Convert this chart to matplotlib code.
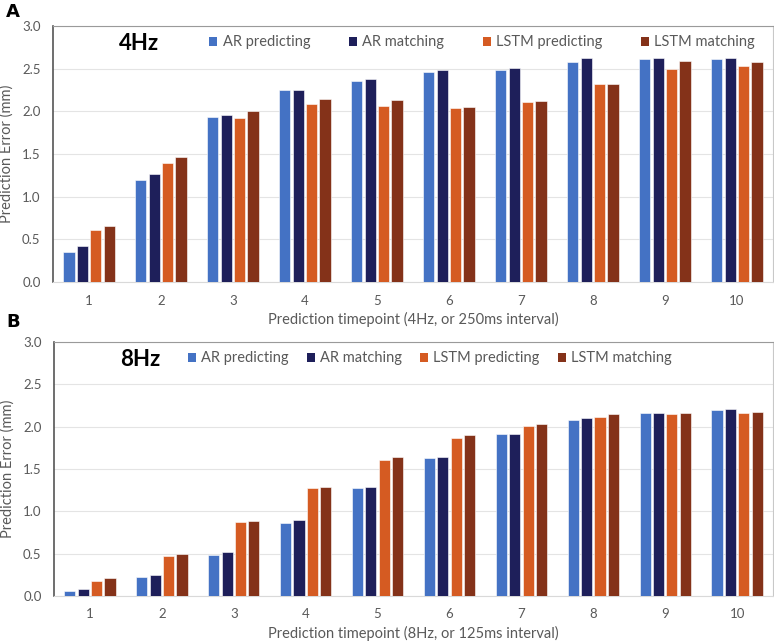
import numpy as np
import matplotlib
matplotlib.use("Agg")
import matplotlib.pyplot as plt
from matplotlib.patches import Patch

plt.rcParams['font.family'] = ['Lato', 'DejaVu Sans']

# ─── data ─────────────────────────────────────────────────────
timepoints = [1, 2, 3, 4, 5, 6, 7, 8, 9, 10]
series_names = ['AR predicting', 'AR matching', 'LSTM predicting', 'LSTM matching']
colors = ['#4472C4', '#1E1F5A', '#D55B22', '#843219']

ar_pred_4hz    = [0.35, 1.19, 1.93, 2.25, 2.36, 2.46, 2.48, 2.58, 2.61, 2.61]
ar_match_4hz   = [0.42, 1.26, 1.96, 2.25, 2.38, 2.48, 2.51, 2.62, 2.62, 2.63]
lstm_pred_4hz  = [0.61, 1.40, 1.92, 2.09, 2.06, 2.04, 2.11, 2.32, 2.50, 2.53]
lstm_match_4hz = [0.66, 1.46, 2.00, 2.15, 2.13, 2.05, 2.12, 2.32, 2.59, 2.58]

ar_pred_8hz    = [0.06, 0.22, 0.48, 0.86, 1.27, 1.63, 1.91, 2.08, 2.16, 2.20]
ar_match_8hz   = [0.08, 0.25, 0.52, 0.90, 1.29, 1.64, 1.91, 2.10, 2.16, 2.21]
lstm_pred_8hz  = [0.18, 0.47, 0.87, 1.27, 1.61, 1.87, 2.01, 2.11, 2.15, 2.16]
lstm_match_8hz = [0.21, 0.50, 0.89, 1.29, 1.64, 1.90, 2.03, 2.15, 2.16, 2.17]

panels = [
    dict(label='A', label_y=0.981, title='4Hz',
         xlabel='Prediction timepoint (4Hz, or 250ms interval)',
         data=[ar_pred_4hz, ar_match_4hz, lstm_pred_4hz, lstm_match_4hz],
         rect=[0.0685, 0.5607, 0.930, 0.3988], leg_x=0.199, col_sp=2.65),
    dict(label='B', label_y=0.498, title='8Hz',
         xlabel='Prediction timepoint (8Hz, or 125ms interval)',
         data=[ar_pred_8hz, ar_match_8hz, lstm_pred_8hz, lstm_match_8hz],
         rect=[0.0698, 0.0717, 0.929, 0.3956], leg_x=0.168, col_sp=1.25),
]

grey = '#595959'
fig = plt.figure(figsize=(7.74, 6.42), dpi=100)

x = np.array(timepoints)
step, width = 0.186, 0.155
offsets = np.array([-1.5, -0.5, 0.5, 1.5]) * step

for p in panels:
    ax = fig.add_axes(p['rect'])
    for vals, off, c in zip(p['data'], offsets, colors):
        ax.bar(x + off, vals, width=width, color=c, edgecolor='white',
               linewidth=0.4, zorder=3)
    ax.set_xlim(0.5, 10.5)
    ax.set_ylim(0, 3.0)
    ax.set_yticks(np.arange(0, 3.01, 0.5))
    ax.set_yticklabels([f'{v:.1f}' for v in np.arange(0, 3.01, 0.5)])
    ax.set_xticks(timepoints)
    ax.tick_params(axis='both', length=0, colors=grey, labelsize=9.5)
    ax.tick_params(axis='x', pad=9)
    ax.tick_params(axis='y', pad=9)
    ax.yaxis.grid(True, color='#E4E4E4', linewidth=0.8, zorder=0)
    ax.spines['left'].set_color('#555555')
    ax.spines['left'].set_linewidth(1.2)
    ax.spines['bottom'].set_color('#D9D9D9')
    ax.spines['top'].set_color('#9A9A9A')
    ax.spines['right'].set_color('#C8C8C8')
    ax.set_ylabel('Prediction Error (mm)', color=grey, fontsize=10.5, labelpad=6)
    ax.set_xlabel(p['xlabel'], color=grey, fontsize=10.5, labelpad=4)
    ax.text(0.092, 0.93, p['title'], transform=ax.transAxes, fontsize=16,
            fontweight='bold', color='black', va='center', ha='left')
    handles = [Patch(facecolor=c) for c in colors]
    leg = ax.legend(handles, series_names, ncol=4, loc='upper left',
                    bbox_to_anchor=(p['leg_x'], 1.015), frameon=False,
                    handlelength=0.55, handleheight=0.55, handletextpad=0.35,
                    columnspacing=p['col_sp'], fontsize=10.5)
    for t in leg.get_texts():
        t.set_color(grey)
    fig.text(0.008, p['label_y'], p['label'], fontsize=13, fontweight='bold',
             family='DejaVu Sans', va='center')

fig.savefig('out.png', dpi=100)
